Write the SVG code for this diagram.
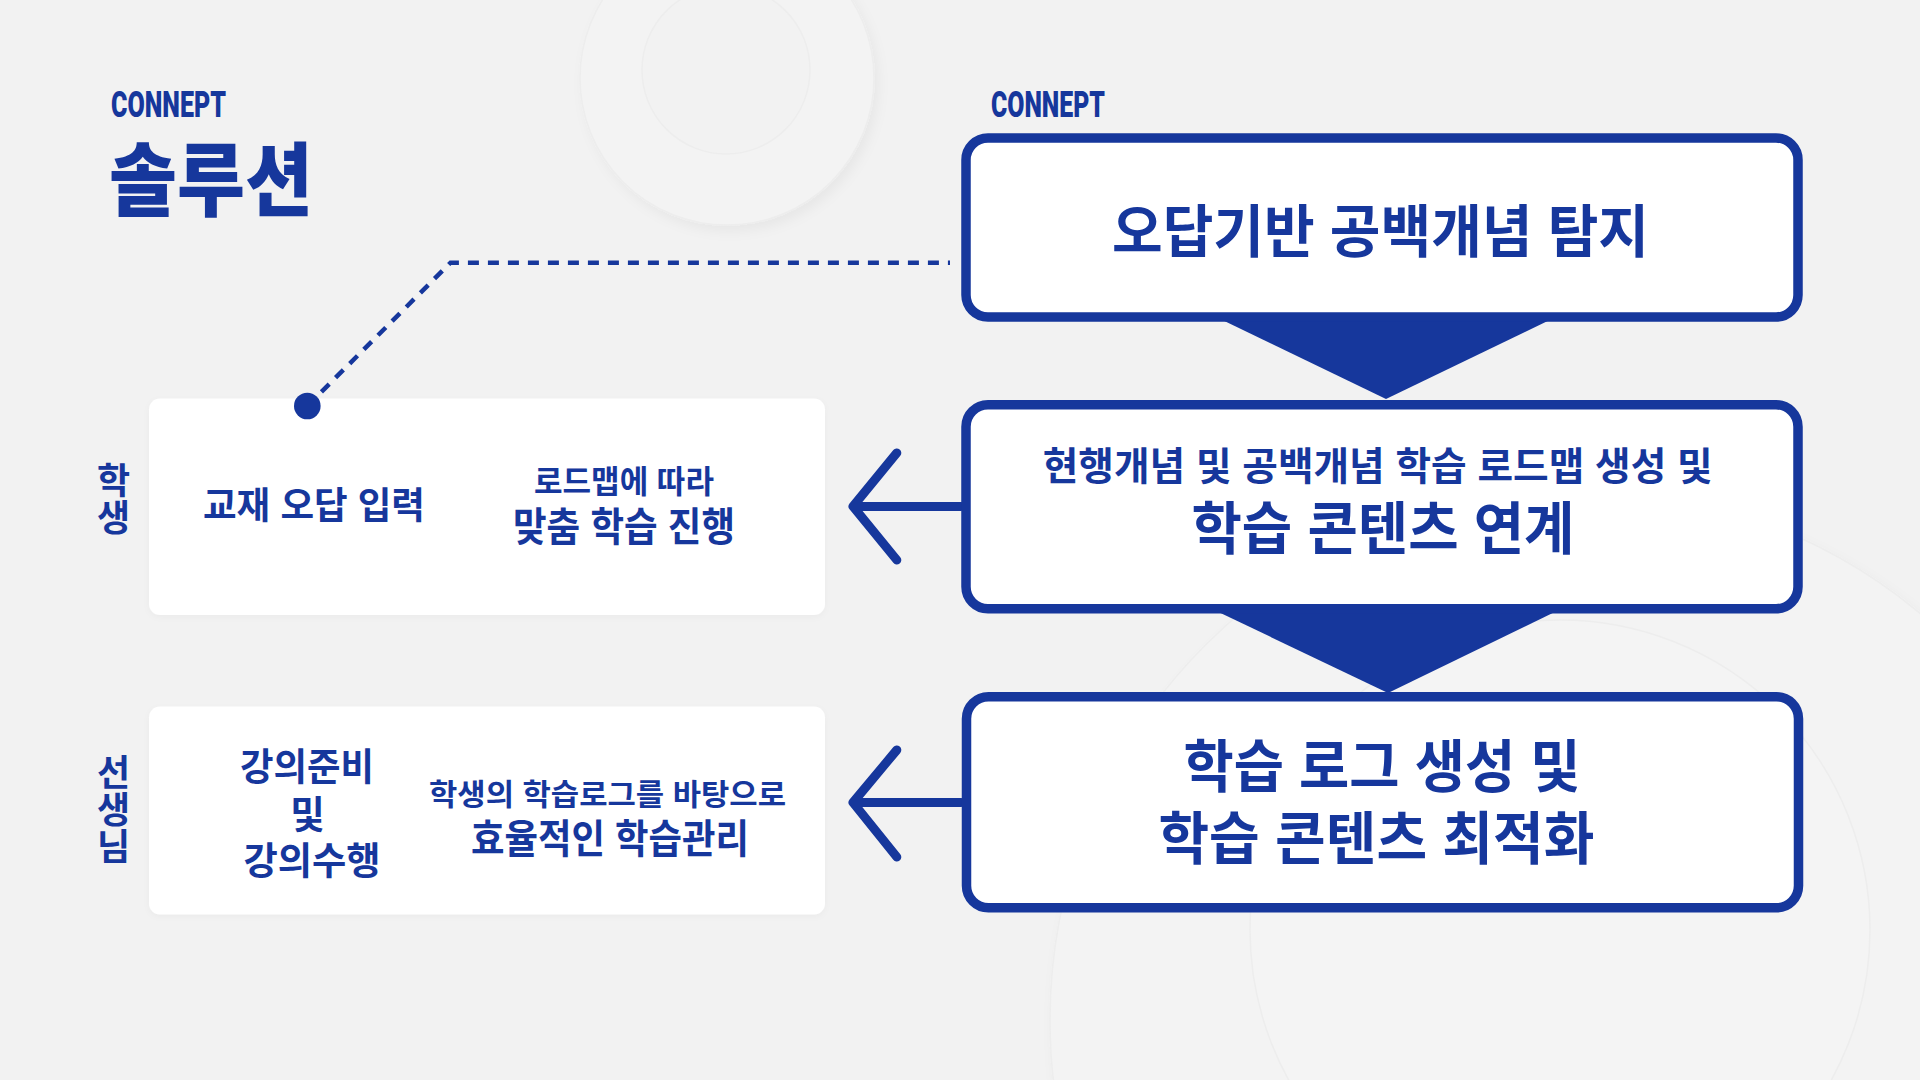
<svg xmlns="http://www.w3.org/2000/svg" width="1920" height="1080" viewBox="0 0 1920 1080">
  <defs>
    <style>
      .k { font-family: 'Liberation Sans', 'Noto Sans CJK KR', sans-serif; fill: #16379c; text-anchor: middle; font-weight: 700; }
      .h { font-weight: 900; }
      .start { text-anchor: start; }
      .vert { writing-mode: vertical-rl; text-orientation: upright; text-anchor: start; }
      .brand { font-family: 'Roboto', 'Liberation Sans', sans-serif; font-weight: 900; fill: #16379c; font-size: 36.5px; }
      .step { fill: #ffffff; stroke: #16379c; stroke-width: 9.5; }
      .card { fill: #ffffff; }
      .tri { fill: #16379c; }
      .arrow { fill: none; stroke: #16379c; stroke-width: 9; stroke-linecap: round; stroke-linejoin: round; }
      .dash { fill: none; stroke: #16379c; stroke-width: 4.5; stroke-dasharray: 11 9; }
      .deco { stroke: #ededed; stroke-width: 1.5; }
    </style>
    <filter id="soft" x="-20%" y="-20%" width="140%" height="140%">
      <feDropShadow dx="4" dy="6" stdDeviation="6" flood-color="#000000" flood-opacity="0.045"/>
    </filter>
    <filter id="cardShadow" x="-5%" y="-5%" width="110%" height="115%">
      <feDropShadow dx="0" dy="2" stdDeviation="3" flood-color="#000000" flood-opacity="0.03"/>
    </filter>
  </defs>

  <!-- background -->
  <rect x="0" y="0" width="1920" height="1080" fill="#f2f2f2"/>
  <g id="decor">
    <circle class="deco" cx="727" cy="78" r="147" fill="#f3f3f3" filter="url(#soft)"/>
    <circle class="deco" cx="726" cy="70" r="84" fill="#f2f2f2"/>
    <circle class="deco" cx="1580" cy="1020" r="530" fill="#f3f3f3" filter="url(#soft)"/>
    <circle class="deco" cx="1560" cy="930" r="310" fill="#f4f4f4"/>
  </g>

  <!-- titles -->
  <g id="title">
    <text class="brand" x="111" y="116.7" textLength="115" lengthAdjust="spacingAndGlyphs">CONNEPT</text>
    <text class="k h start" x="109" y="209" font-size="80" textLength="204" lengthAdjust="spacingAndGlyphs">솔루션</text>
  </g>
  <g id="brand-right">
    <text class="brand" x="991" y="116.7" textLength="114" lengthAdjust="spacingAndGlyphs">CONNEPT</text>
  </g>

  <!-- side labels -->
  <g id="label-student">
    <text class="k vert" x="110" y="462" font-size="36" letter-spacing="1.5">학생</text>
  </g>
  <g id="label-teacher">
    <text class="k vert" x="110" y="754" font-size="36" letter-spacing="1">선생님</text>
  </g>

  <!-- left cards -->
  <g id="student-card">
    <rect class="card" x="149" y="398.5" width="676" height="216.5" rx="11" filter="url(#cardShadow)"/>
    <text class="k" x="314" y="518.5" font-size="37" textLength="222" lengthAdjust="spacingAndGlyphs">교재 오답 입력</text>
    <text class="k"><tspan x="624" y="492.7" font-size="31.5" textLength="180" lengthAdjust="spacingAndGlyphs">로드맵에 따라</tspan><tspan x="624" y="540.5" font-size="40" textLength="222" lengthAdjust="spacingAndGlyphs">맞춤 학습 진행</tspan></text>
  </g>
  <g id="teacher-card">
    <rect class="card" x="149" y="706.5" width="676" height="208" rx="11" filter="url(#cardShadow)"/>
    <text class="k" font-size="37.5"><tspan x="307" y="779.5" textLength="134" lengthAdjust="spacingAndGlyphs">강의준비</tspan><tspan x="307.5" y="828">및</tspan><tspan x="312" y="873.5" textLength="137" lengthAdjust="spacingAndGlyphs">강의수행</tspan></text>
    <text class="k"><tspan x="607.5" y="805" font-size="29.5" textLength="357" lengthAdjust="spacingAndGlyphs">학생의 학습로그를 바탕으로</tspan><tspan x="610" y="853" font-size="40" textLength="278" lengthAdjust="spacingAndGlyphs">효율적인 학습관리</tspan></text>
  </g>

  <!-- connectors -->
  <g id="connectors">
    <polygon class="tri" points="1214,316 1558,316 1386,399"/>
    <polygon class="tri" points="1210,608 1563,608 1388,693"/>
    <path class="arrow" d="M961 506.4 H853 M896.8 452.9 L853 506.4 L896.8 560"/>
    <path class="arrow" d="M961 802.5 H853 M896.8 750 L853 802.5 L896.8 857"/>
    <path class="dash" d="M307.3 406 L450.5 262.7 L950 262.7"/>
    <circle cx="307.3" cy="406" r="13.3" fill="#16379c"/>
  </g>

  <!-- right step boxes -->
  <g id="step1">
    <rect class="step" x="966" y="138" width="832" height="179" rx="22"/>
    <text class="k" x="1380.5" y="251.6" font-size="57" textLength="537" lengthAdjust="spacingAndGlyphs">오답기반 공백개념 탐지</text>
  </g>
  <g id="step2">
    <rect class="step" x="966" y="404.75" width="832" height="204" rx="22"/>
    <text class="k"><tspan x="1377.7" y="480" font-size="39" textLength="670" lengthAdjust="spacingAndGlyphs">현행개념 및 공백개념 학습 로드맵 생성 및</tspan><tspan x="1383" y="548.6" font-size="57" textLength="383" lengthAdjust="spacingAndGlyphs">학습 콘텐츠 연계</tspan></text>
  </g>
  <g id="step3">
    <rect class="step" x="966.5" y="696.75" width="832" height="211" rx="22"/>
    <text class="k" font-size="57"><tspan x="1382" y="786.6" textLength="397" lengthAdjust="spacingAndGlyphs">학습 로그 생성 및</tspan><tspan x="1376.4" y="859" textLength="436" lengthAdjust="spacingAndGlyphs">학습 콘텐츠 최적화</tspan></text>
  </g>
</svg>
